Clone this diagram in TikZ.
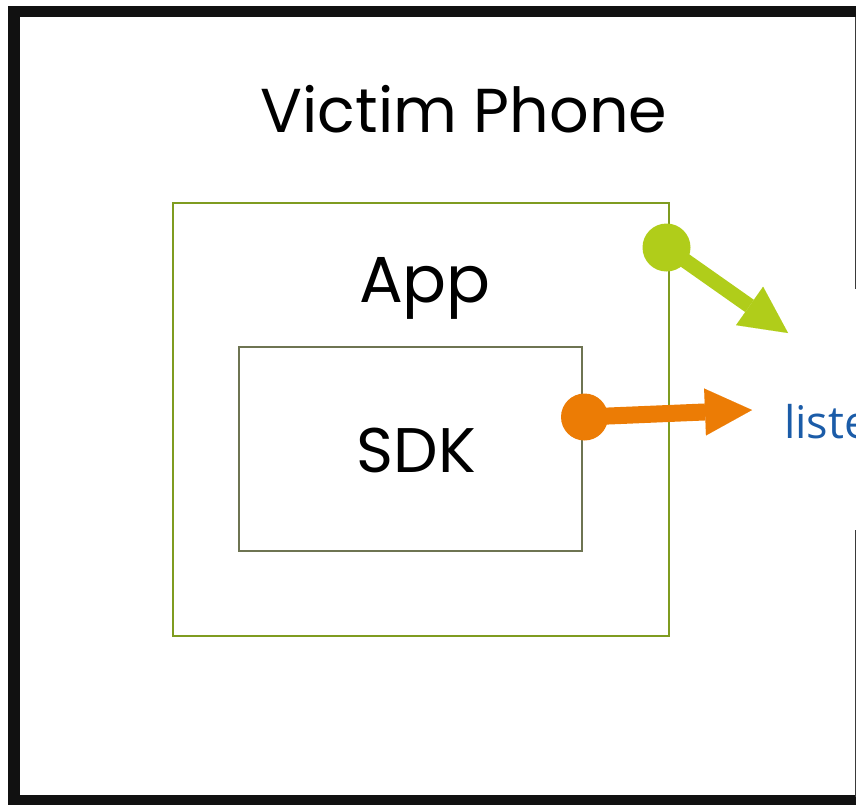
\documentclass[tikz,border=0pt]{standalone}
\usepackage{fontspec}
\setmainfont{Poppins}
\newfontfamily\labelfont{Open Sans}
\usetikzlibrary{arrows.meta}
\definecolor{framecol}{HTML}{111111}
\definecolor{edgecol}{HTML}{3A3A3A}
\definecolor{appcol}{HTML}{7F9C20}
\definecolor{sdkcol}{HTML}{6E7452}
\definecolor{limecol}{HTML}{B0CD1A}
\definecolor{orangecol}{HTML}{EC7C05}
\definecolor{linkcol}{HTML}{1B5CA8}
\tikzset{
  title/.style={anchor=base, inner sep=0pt, font=\fontsize{62}{68}\selectfont},
  boxlabel/.style={anchor=base, inner sep=0pt, font=\fontsize{65}{71}\selectfont},
  dot/.style={circle, inner sep=0pt, minimum size=#1, fill},
  fatarrow/.style={line width=16pt, -{Triangle[length=47pt, width=47pt, line width=0.01pt]}},
}
\begin{document}
\begin{tikzpicture}[x=1pt, y=-1pt]
\useasboundingbox (0,0) rectangle (856,804);
\clip (0,0) rectangle (856,804);

% phone outline
\draw[framecol, line width=11.5pt] (14,11.5) rectangle (880,801);
\draw[edgecol, line width=1.5pt] (855.5,17) -- (855.5,289);
\draw[edgecol, line width=1.5pt] (855.5,530) -- (855.5,797);

% app and sdk boxes
\draw[appcol, line width=2.5pt] (173,203) rectangle (669,636);
\draw[sdkcol, line width=2.5pt] (239,347) rectangle (582,551);

% texts
\node[title] (phone) at (464,132) {Victim Phone};
\node[boxlabel] (app) at (425,302) {App};
\node[boxlabel, font=\fontsize{63}{69}\selectfont] (sdk) at (416.5,472) {SDK};

% listener label
\node[anchor=base west, inner sep=0pt, text=linkcol,
      font=\labelfont\fontsize{45}{50}\selectfont] (listen) at (784,438) {liste};

% data flows
\node[dot=48pt, limecol] (gdot) at (666.5,247.5) {};
\node[dot=47pt, orangecol] (odot) at (584.5,417) {};
\coordinate (gtip) at (788,333);
\coordinate (otip) at (752,410);
\draw[fatarrow, limecol, line width=15pt] (gdot.center) -- (gtip);
\draw[fatarrow, orangecol, line width=17pt] (odot.center) -- (otip);
\end{tikzpicture}
\end{document}
